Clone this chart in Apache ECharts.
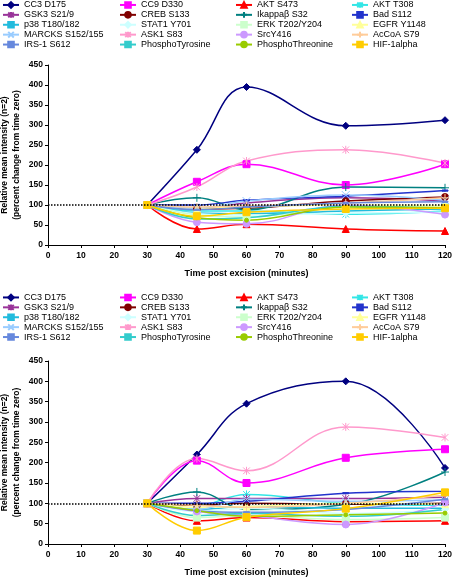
<!DOCTYPE html>
<html><head><meta charset="utf-8">
<script src="https://cdn.jsdelivr.net/npm/echarts@6/dist/echarts.min.js"></script>
<style>html,body{margin:0;padding:0;background:#fff}#c{width:456px;height:579px}</style>
</head><body><div id="c"></div>
<script>
const timePoints = [30, 45, 60, 90, 120];
const baseline = 100;
const seriesNames = ['CC3 D175','CC9 D330','AKT S473','AKT T308','GSK3 S21/9','CREB S133','Ikappaβ S32','Bad S112',
  'p38 T180/182','STAT1 Y701','ERK T202/Y204','EGFR Y1148','MARCKS S152/155','ASK1 S83','SrcY416','AcCoA S79',
  'IRS-1 S612','PhosphoTyrosine','PhosphoThreonine','HIF-1alpha'];
const seriesColors = ['#000080','#FF00FF','#FF0000','#33E6E6','#993399','#800000','#008080','#2233CC',
  '#22BBDD','#CCFFFF','#CCFFCC','#FFFF99','#99CCFF','#FF99CC','#CC99FF','#FFCC99',
  '#6688DD','#33CCCC','#99CC00','#FFCC00'];
const AST = 'path://M-5,-5L5,5M-5,5L5,-5M0,-6L0,6';
const XS = 'path://M-5,-5L5,5M-5,5L5,-5';
const PLUS = 'path://M0,-6L0,6M-6,0L6,0';
const DASH = 'path://M-3,-0.6L3,-0.6L3,0.6L-3,0.6Z';
const seriesSymbols = ['diamond','rect','triangle',AST,AST,'circle',PLUS,DASH,
  DASH,'diamond','rect','triangle',XS,AST,'circle',PLUS,
  DASH,DASH,'circle','rect'];
const seriesShowSymbol = [1,1,1,1,1,1,1,1, 0,1,1,1,1,1,1,1, 1,0,1,1];
const seriesSymbolSizes = [7,7,7,8,8,7,8,6,6,7,7,7,8,8,7,8,6,6,4,7];
const valuesTop = [
  [100,238,395,298,312],
  [100,158,202,150,202],
  [100,40,52,40,35],
  [100,85,85,77,85],
  [100,90,105,118,110],
  [100,90,92,110,120],
  [100,118,88,145,143],
  [100,100,112,122,136],
  [100,80,78,85,90],
  [100,78,75,80,82],
  [100,75,70,95,95],
  [100,92,95,100,98],
  [100,92,110,125,112],
  [100,145,210,238,205],
  [100,57,53,100,76],
  [100,95,98,105,118],
  [100,88,95,105,108],
  [100,65,68,97,92],
  [100,68,62,95,93],
  [100,72,82,90,92]
];
const valuesBottom = [
  [100,220,345,400,187],
  [100,205,150,212,233],
  [100,57,65,55,57],
  [100,95,122,100,95],
  [100,112,112,112,115],
  [100,95,100,98,100],
  [100,128,85,97,177],
  [100,100,105,125,130],
  [100,85,92,88,88],
  [100,80,88,75,85],
  [100,65,70,60,65],
  [100,90,92,100,98],
  [100,85,110,105,108],
  [100,210,180,288,262],
  [100,80,70,48,102],
  [100,95,90,100,120],
  [100,82,78,85,110],
  [100,70,75,68,85],
  [100,82,68,72,76],
  [100,33,66,87,127]
];

const FONT = '"Liberation Sans", Arial, sans-serif';
const chart = echarts.init(document.getElementById('c'), null, {renderer: 'canvas'});

function makeSeries(values, gi) {
  return seriesNames.map((n, i) => {
    const s = {
      name: n, type: 'line', xAxisIndex: gi, yAxisIndex: gi,
      data: timePoints.map((t, k) => [t, values[i][k]]),
      smooth: 0.4,
      symbol: seriesSymbols[i], symbolSize: seriesSymbolSizes[i],
      symbolKeepAspect: true,
      showSymbol: !!seriesShowSymbol[i],
      lineStyle: {color: seriesColors[i], width: 1.5},
      itemStyle: {color: seriesColors[i], borderColor: seriesColors[i], borderWidth: 1},
      emphasis: {disabled: true},
      animation: false
    };
    if (i === 0) {
      s.markLine = {silent: true, symbol: 'none', label: {show: false},
        lineStyle: {color: '#000', type: 'dotted', width: 1.5},
        data: [{yAxis: baseline}]};
    }
    return s;
  });
}

function xAx(gi) {
  return {type: 'value', gridIndex: gi, min: 0, max: 120, interval: 10,
    name: 'Time post excision (minutes)', nameLocation: 'middle', nameGap: 24, nameMoveOverlap: false,
    nameTextStyle: {fontSize: 9, fontWeight: 'bold', fontFamily: FONT, color: '#000'},
    axisLine: {lineStyle: {color: '#000', width: 1}},
    axisTick: {show: true, length: 3, lineStyle: {color: '#000'}},
    axisLabel: {fontSize: 8.5, fontWeight: 'bold', fontFamily: FONT, color: '#000', margin: 6},
    splitLine: {show: false}};
}
function yAx(gi) {
  return {type: 'value', gridIndex: gi, min: 0, max: 450, interval: 50,
    name: 'Relative mean intensity (n=2)\n(percent change from time zero)',
    nameLocation: 'middle', nameGap: 26, nameRotate: 90, nameMoveOverlap: false,
    nameTextStyle: {fontSize: 8.5, fontWeight: 'bold', fontFamily: FONT, color: '#000', lineHeight: 11.5},
    axisLine: {show: true, lineStyle: {color: '#000', width: 1}},
    axisTick: {show: true, length: 3, lineStyle: {color: '#000'}},
    axisLabel: {fontSize: 8.5, fontWeight: 'bold', fontFamily: FONT, color: '#000', margin: 5},
    splitLine: {show: false}};
}

const lefts = [2, 119, 235, 351];
function makeLegends(top) {
  return lefts.map((l, c) => ({
    type: 'plain', orient: 'vertical', left: l, top: top, padding: 0,
    itemWidth: 16, itemHeight: 7, itemGap: 0, selectedMode: false,
    textStyle: {fontSize: 9, fontFamily: FONT, color: '#000', lineHeight: 9.9},
    data: [0, 1, 2, 3, 4].map(r => seriesNames[r * 4 + c])
  }));
}

chart.setOption({
  animation: false,
  backgroundColor: '#fff',
  legend: makeLegends(0).concat(makeLegends(292.5)),
  grid: [
    {left: 48, right: 11, top: 65, height: 180, outerBoundsMode: 'none', containLabel: false},
    {left: 48, right: 11, top: 361, height: 183, outerBoundsMode: 'none', containLabel: false}
  ],
  xAxis: [xAx(0), xAx(1)],
  yAxis: [yAx(0), yAx(1)],
  series: makeSeries(valuesTop, 0).concat(makeSeries(valuesBottom, 1))
});
</script></body></html>
